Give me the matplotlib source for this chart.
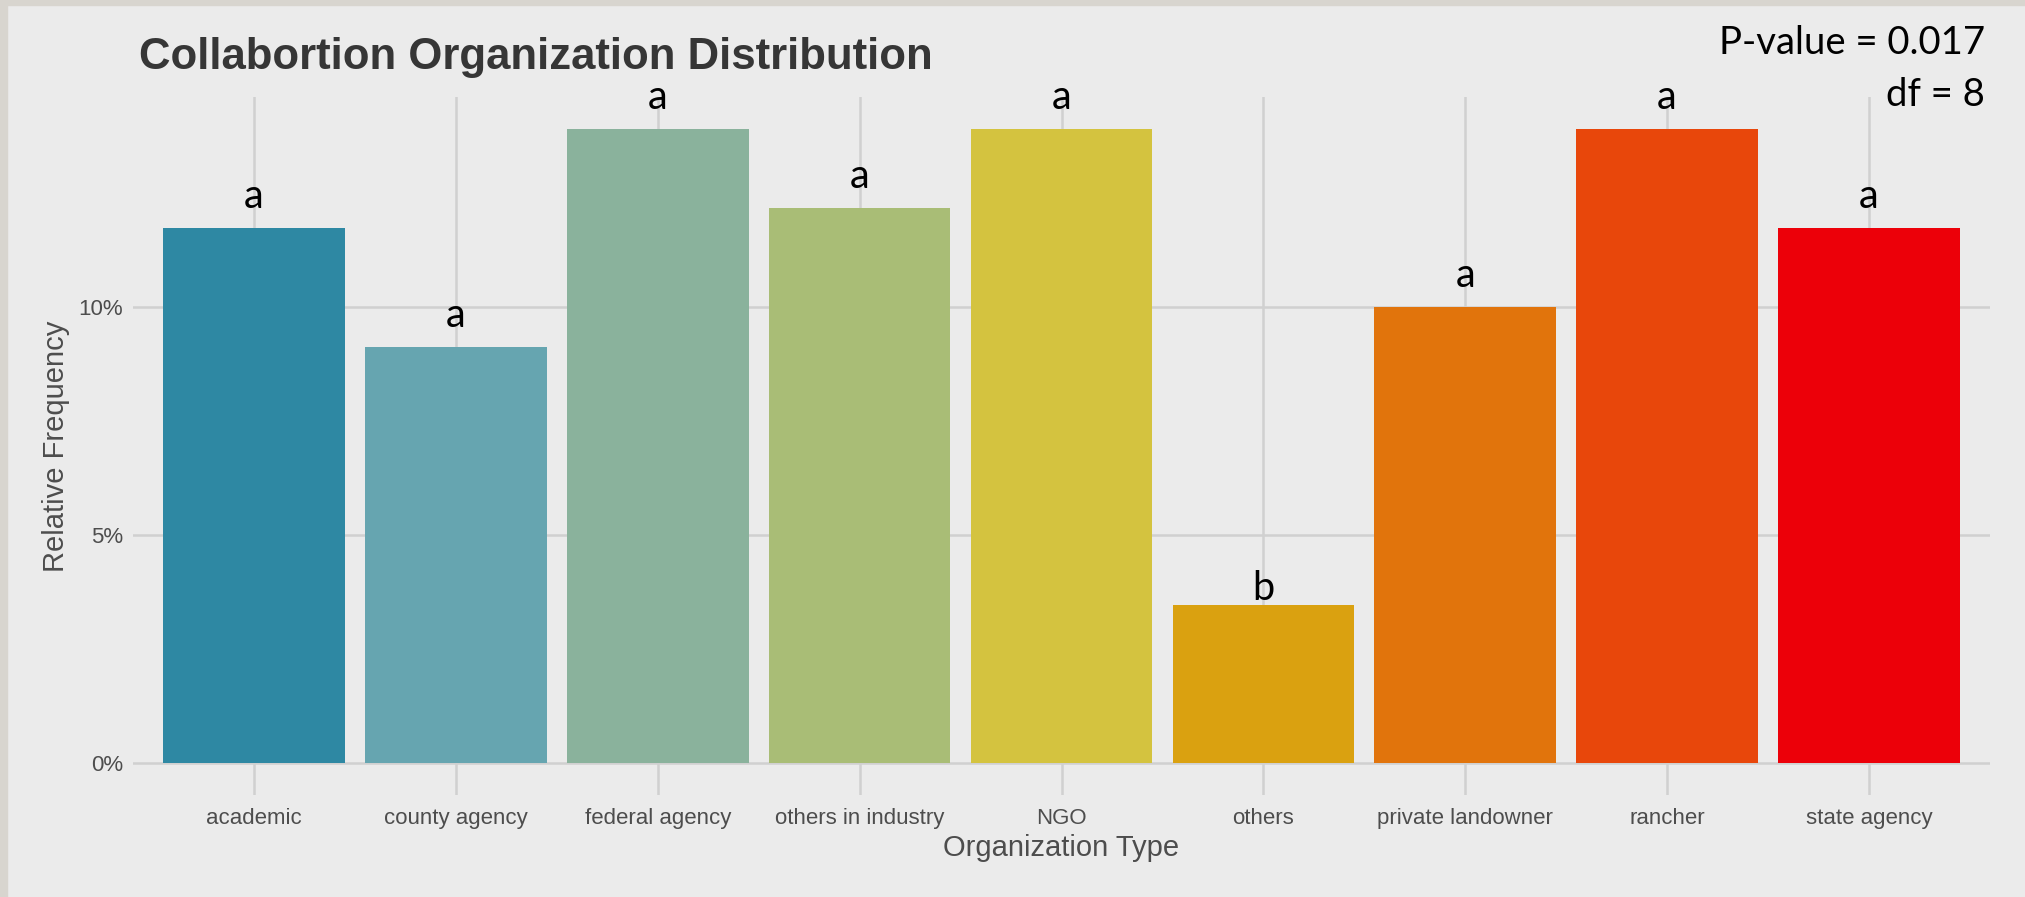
import matplotlib
matplotlib.use('Agg')
import matplotlib.pyplot as plt
from matplotlib.patches import Rectangle
import numpy as np

# counts per organization type (relative frequency = count / total)
categories = ['academic', 'county agency', 'federal agency', 'others in industry', 'NGO',
              'others', 'private landowner', 'rancher', 'state agency']
counts = [27, 21, 32, 28, 32, 8, 23, 32, 27]
letters = ['a', 'a', 'a', 'a', 'a', 'b', 'a', 'a', 'a']
colors = ['#2e88a3', '#66a5b0', '#8ab29c', '#a9bd76', '#d4c33f',
          '#daa110', '#e1740c', '#e8470b', '#ec0009']
yticks = [0, 5, 10]
p_value = '0.017'
dof = 8

W, H = 2025, 897
bg = '#ebebeb'
fig = plt.figure(figsize=(W / 100, H / 100), dpi=100, facecolor=bg)

# gray frame strips at top and left of the screenshot
fig.patches.append(Rectangle((0, 1 - 5 / H), 1, 5 / H, transform=fig.transFigure,
                             color='#d8d5cf', zorder=0))
fig.patches.append(Rectangle((0, 0), 7 / W, 1, transform=fig.transFigure,
                             color='#d8d5cf', zorder=0))

ax = fig.add_axes([133 / W, 1 - 795 / H, (1990 - 133) / W, (795 - 97) / H])
ax.set_facecolor(bg)

freq = np.array(counts) / sum(counts) * 100
x = np.arange(len(categories))
ax.bar(x, freq, width=0.9, color=colors, zorder=2)

ymax = freq.max()
ax.set_xlim(-0.6, len(categories) - 0.4)
ax.set_ylim(-0.05 * ymax, 1.05 * ymax)

ax.set_xticks(x)
ax.set_xticklabels(categories)
ax.set_yticks(yticks)
ax.set_yticklabels([f'{t}%' for t in yticks])
ax.grid(True, color='#d0d0d0', lw=1.8, zorder=0)
ax.set_axisbelow(True)
for s in ax.spines.values():
    s.set_visible(False)
ax.tick_params(length=0, labelsize=16, labelcolor='#4d4d4d')
ax.tick_params(axis='x', pad=9)
ax.tick_params(axis='y', pad=7)
for lab in ax.get_xticklabels() + ax.get_yticklabels():
    lab.set_family('Liberation Sans')

ax.set_xlabel('Organization Type', fontsize=21, color='#4d4d4d', family='Liberation Sans')
ax.xaxis.label.set_va('center')
ax.xaxis.set_label_coords(0.5, -53 / 698)
ax.set_ylabel('Relative Frequency', fontsize=21, color='#4d4d4d', family='Liberation Sans')
ax.yaxis.label.set_va('center')
ax.yaxis.set_label_coords(-77 / 1857, 0.5)

# significance letters
for xi, fi, let in zip(x, freq, letters):
    off = 14.4 if let == 'a' else 3.6
    ax.annotate(let, (xi, fi), xytext=(0, off), textcoords='offset points',
                ha='center', va='baseline', fontsize=28.5, family='Lato', color='black')

fig.text(139 / W, 1 - 58 / H, 'Collabortion Organization Distribution', fontsize=31.5,
         fontweight='bold', family='Liberation Sans', color='#363636', ha='left', va='center')
fig.text(1985 / W, 1 - 43.5 / H, f'P-value = {p_value}', fontsize=27.5, family='Lato',
         ha='right', va='center', color='black')
fig.text(1985 / W, 1 - 95 / H, f'df = {dof}', fontsize=27.5, family='Lato',
         ha='right', va='center', color='black')

fig.savefig('out.png', dpi=100, facecolor=bg)
